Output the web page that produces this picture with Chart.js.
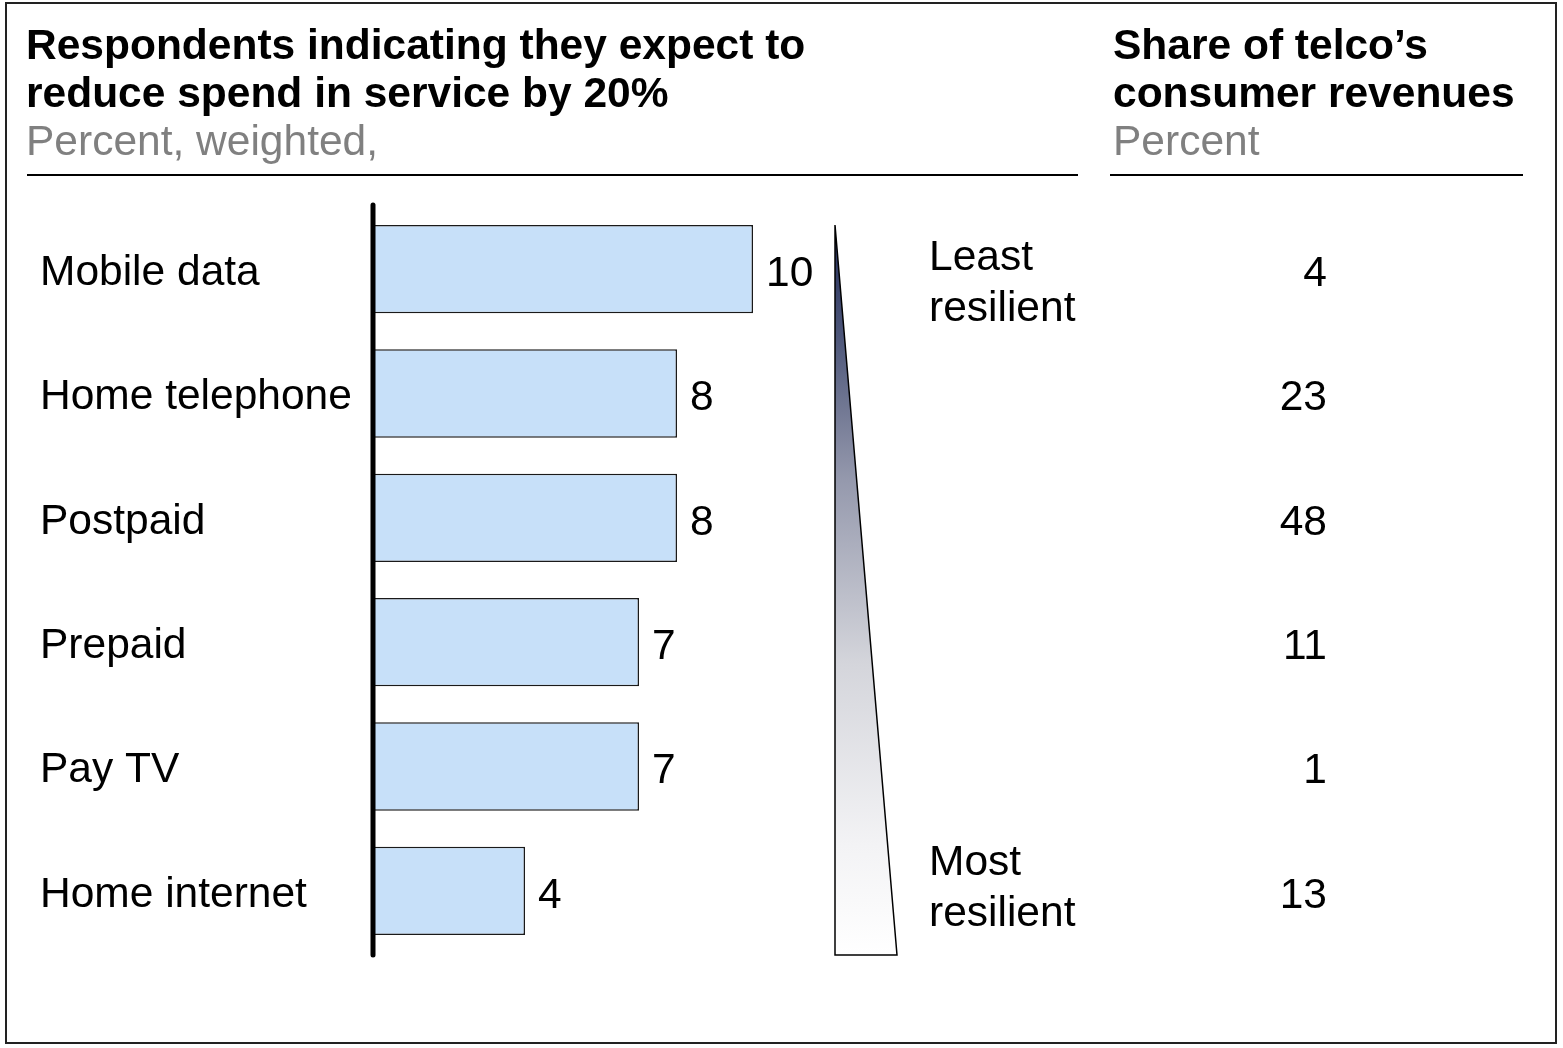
<!DOCTYPE html>
<html>
<head>
<meta charset="utf-8">
<script src="https://cdn.jsdelivr.net/npm/chart.js@4.4.1/dist/chart.umd.min.js"></script>
<style>
    html, body { margin: 0; padding: 0; background: #fff; }
    canvas { display: block; }
</style>
</head>
<body>
<canvas id="grafico" width="1563" height="1048"></canvas>
<script>
// =======================
// DATA
// =======================
const services = ["Mobile data", "Home telephone", "Postpaid", "Prepaid", "Pay TV", "Home internet"];
const spendCut = [10, 8, 8, 7, 7, 4];
const revenueShare = [4, 23, 48, 11, 1, 13];

const leftTitle = ["Respondents indicating they expect to", "reduce spend in service by 20%"];
const leftUnit = "Percent, weighted,";
const rightTitle = ["Share of telco\u2019s", "consumer revenues"];
const rightUnit = "Percent";
const scaleTop = ["Least", "resilient"];
const scaleBottom = ["Most", "resilient"];

// =======================
// CONFIG
// =======================
const FONT = "'Liberation Sans', Arial, Helvetica, sans-serif";
const W = 1563;
const H = 1048;
const BODY_SIZE = 42.5;

// =======================
// DECORATION PLUGIN
// =======================
const decor = {
    id: "decor",
    afterDraw(chart) {
        const ctx = chart.ctx;
        const area = chart.chartArea;
        const y = chart.scales.y;

        ctx.save();

        // outer frame
        ctx.strokeStyle = "#222";
        ctx.lineWidth = 2;
        ctx.strokeRect(6, 3, 1550, 1040);

        // headers
        ctx.textAlign = "left";
        ctx.textBaseline = "alphabetic";
        ctx.fillStyle = "#000";
        ctx.font = "bold 42.5px " + FONT;
        ctx.fillText(leftTitle[0], 26, 59);
        ctx.fillText(leftTitle[1], 26, 107);
        ctx.fillText(rightTitle[0], 1113, 59);
        ctx.fillText(rightTitle[1], 1113, 107);

        ctx.fillStyle = "#808080";
        ctx.font = "42.5px " + FONT;
        ctx.fillText(leftUnit, 26, 155);
        ctx.fillText(rightUnit, 1113, 155);

        // header rules
        ctx.strokeStyle = "#000";
        ctx.lineWidth = 2;
        ctx.beginPath();
        ctx.moveTo(27, 175);
        ctx.lineTo(1078, 175);
        ctx.moveTo(1110, 175);
        ctx.lineTo(1523, 175);
        ctx.stroke();

        // base axis line
        ctx.lineWidth = 5;
        ctx.lineCap = "round";
        ctx.beginPath();
        ctx.moveTo(area.left, area.top - 2);
        ctx.lineTo(area.left, area.bottom + 2);
        ctx.stroke();

        // value labels at bar ends
        ctx.fillStyle = "#000";
        ctx.font = BODY_SIZE + "px " + FONT;
        ctx.textBaseline = "middle";
        const meta = chart.getDatasetMeta(0);
        meta.data.forEach((bar, i) => {
            ctx.fillText(String(spendCut[i]), bar.x + 13, bar.y + 5);
        });

        // resilience wedge
        const top = 225;
        const bottom = 955;
        const grad = ctx.createLinearGradient(0, top, 0, bottom);
        grad.addColorStop(0, "#222c58");
        grad.addColorStop(0.15, "#4d5679");
        grad.addColorStop(0.35, "#9599ad");
        grad.addColorStop(0.6, "#d4d5db");
        grad.addColorStop(0.85, "#f3f3f5");
        grad.addColorStop(1, "#ffffff");
        ctx.beginPath();
        ctx.moveTo(835, top);
        ctx.lineTo(897, bottom);
        ctx.lineTo(835, bottom);
        ctx.closePath();
        ctx.fillStyle = grad;
        ctx.fill();
        ctx.lineWidth = 1.5;
        ctx.lineCap = "butt";
        ctx.lineJoin = "miter";
        ctx.strokeStyle = "#000";
        ctx.stroke();

        ctx.fillStyle = "#000";
        ctx.textAlign = "left";
        ctx.fillText(scaleTop[0], 929, 258);
        ctx.fillText(scaleTop[1], 929, 309);
        ctx.fillText(scaleBottom[0], 929, 863);
        ctx.fillText(scaleBottom[1], 929, 914);

        // revenue share column
        ctx.textAlign = "right";
        revenueShare.forEach((v, i) => {
            ctx.fillText(String(v), 1327, y.getPixelForValue(i) + 5);
        });

        ctx.restore();
    }
};

// =======================
// CHART
// =======================
new Chart(document.getElementById("grafico"), {
    type: "bar",
    data: {
        labels: services,
        datasets: [{
            data: spendCut,
            backgroundColor: "#c7e0f9",
            borderColor: "#1a1a1a",
            borderWidth: 1.5,
            barPercentage: 0.71,
            categoryPercentage: 1
        }]
    },
    options: {
        indexAxis: "y",
        responsive: false,
        animation: false,
        layout: {
            padding: { left: 40, top: 207, bottom: H - 953, right: W - 829 }
        },
        plugins: {
            legend: { display: false },
            tooltip: { enabled: false }
        },
        scales: {
            x: { min: 0, max: 12, display: false },
            y: {
                grid: { display: false },
                border: { display: false },
                ticks: {
                    color: "#000",
                    font: { family: FONT, size: BODY_SIZE },
                    crossAlign: "far",
                    labelOffset: 4,
                    padding: 0
                },
                afterFit(scale) {
                    scale.width = 333;
                }
            }
        }
    },
    plugins: [decor]
});
</script>
</body>
</html>
